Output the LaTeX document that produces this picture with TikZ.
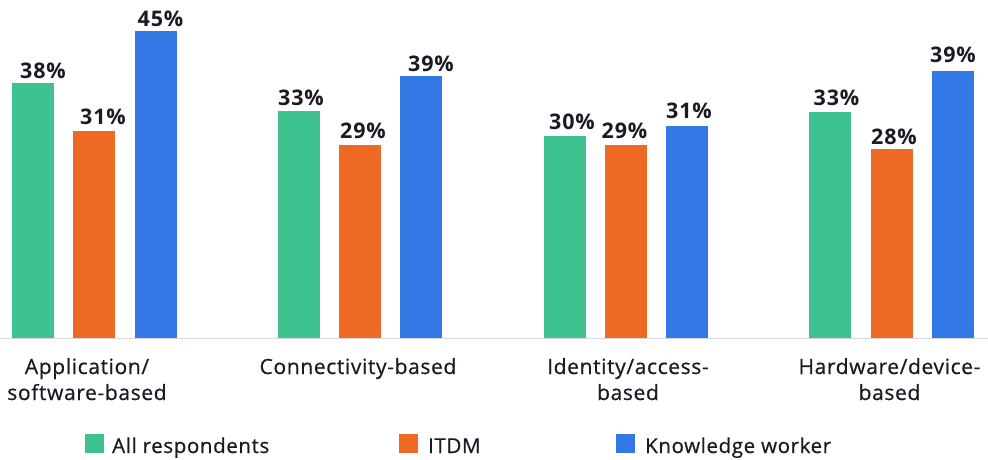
\documentclass[tikz,border=0pt]{standalone}
\usepackage{fontspec}
\setmainfont{Open Sans}
\newfontfamily\catfont{Open Sans}[FakeBold=0.6,LetterSpace=3]
\newfontfamily\valfont{Open Sans}[LetterSpace=4]
\definecolor{cgreen}{HTML}{3EC28F}
\definecolor{corange}{HTML}{EE6A24}
\definecolor{cblue}{HTML}{3478E5}
\definecolor{ctext}{HTML}{1A1A24}
\definecolor{caxis}{HTML}{D9D9D9}
\begin{document}
\begin{tikzpicture}[x=1pt,y=-1pt,
  val/.style={anchor=base,inner sep=0pt,text=ctext,font=\valfont\fontsize{21.5}{24}\selectfont\bfseries},
  cat/.style={anchor=base,inner sep=0pt,text=ctext,font=\catfont\fontsize{21}{24}\selectfont},
  leg/.style={anchor=base west,inner sep=0pt,text=ctext,font=\catfont\fontsize{20.5}{24}\selectfont},
  legsq/.style={draw=none,fill=#1,minimum size=19pt,inner sep=0pt,anchor=north west}
]
\useasboundingbox (0,0) rectangle (988,460);
% bars: name / x-left / top / colour / value / label centre / label baseline
\foreach \n/\x/\t/\c/\v/\lx/\ly in {
  a1/12/83/cgreen/38/43/78, a2/73/131/corange/31/103/124, a3/135/31/cblue/45/160.5/27,
  b1/278/111/cgreen/33/301/106, b2/339/145/corange/29/363/138, b3/400/76/cblue/39/431/71,
  c1/544/136/cgreen/30/572/129, c2/605/145/corange/29/624.5/138, c3/666/126/cblue/31/689/118,
  d1/809/112/cgreen/33/836.5/106, d2/871/149/corange/28/894/144, d3/932/71/cblue/39/953/63}{
  \fill[\c] (\x,338) rectangle ++(42,-338+\t);
  \node[val] (v\n) at (\lx,\ly) {\v\%};
}
\coordinate (axl) at (0,338.5);
\coordinate (axr) at (988,338.5);
\draw[caxis,line width=1.2pt] (axl) -- (axr);
% category labels
\node[cat] (ca1) at (87,374) {Application/};
\node[cat] (ca2) at (87,400) {software-based};
\node[cat] (cb1) at (358,374) {Connectivity-based};
\node[cat] (cc1) at (628,374) {Identity/access-};
\node[cat] (cc2) at (628,400) {based};
\node[cat] (cd1) at (889.5,374) {Hardware/device-};
\node[cat] (cd2) at (889.5,400) {based};
% legend
\node[legsq=cgreen] (lg) at (85,434) {};
\node[leg] (lgt) at (112,453) {All respondents};
\node[legsq=corange] (lo) at (399,434) {};
\node[leg] (lot) at (428,453) {ITDM};
\node[legsq=cblue] (lb) at (616,434) {};
\node[leg] (lbt) at (645,453) {Knowledge worker};
\end{tikzpicture}
\end{document}
